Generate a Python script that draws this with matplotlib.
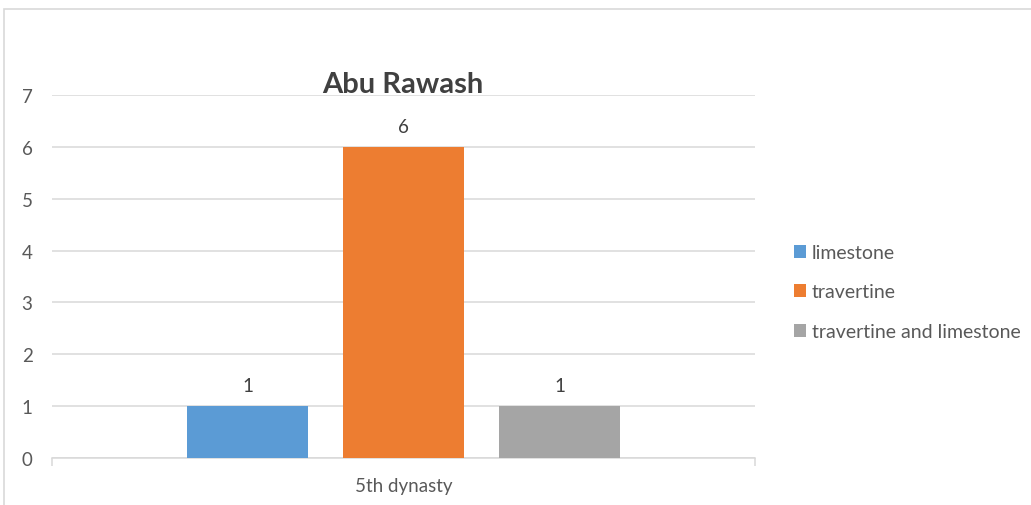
import matplotlib
matplotlib.use("Agg")
import matplotlib.pyplot as plt
from matplotlib.patches import Rectangle

categories = ["5th dynasty"]
series_names = ["limestone", "travertine", "travertine and limestone"]
series_values = [[1], [6], [1]]
colors = ["#5b9bd5", "#ed7d31", "#a5a5a5"]
y_ticks = [0, 1, 2, 3, 4, 5, 6, 7]

plt.rcParams['font.family'] = ['Lato', 'DejaVu Sans']

W, H = 1031, 506
fig = plt.figure(figsize=(W / 100, H / 100), dpi=100)

# chart border
fig.patches.append(Rectangle((4 / W, -0.1), 1.2, 1 - 10 / H + 0.1, transform=fig.transFigure,
                             fill=False, edgecolor="#d9d9d9", linewidth=1.2))

ax = fig.add_axes([52 / W, 1 - 459 / H, (755 - 52) / W, (459 - 96) / H])
bar_w = 121 / 703
step = 156 / 703
n = len(series_names)
for i, (name, vals, c) in enumerate(zip(series_names, series_values, colors)):
    xs = [k + (i - (n - 1) / 2) * step for k in range(len(categories))]
    ax.bar(xs, vals, width=bar_w, color=c, label=name, zorder=3)
    for x, v in zip(xs, vals):
        ax.annotate(str(v), (x, v), xytext=(0, 8.5), textcoords="offset points",
                    ha="center", va="bottom", fontsize=13.5, color="#404040")

ax.set_xlim(-0.5, len(categories) - 0.5)
ax.set_ylim(0, 7)
ax.set_yticks(y_ticks)
ax.yaxis.grid(True, color="#d9d9d9", linewidth=1.1, zorder=0)
ax.set_axisbelow(True)
for s in ["top", "right", "left"]:
    ax.spines[s].set_visible(False)
ax.spines["bottom"].set_color("#d9d9d9")
ax.spines["bottom"].set_linewidth(1.1)
ax.tick_params(axis="y", length=0, labelsize=13.5, labelcolor="#595959", pad=14)
ax.set_xticks(range(len(categories)))
ax.set_xticklabels(categories)
ax.tick_params(axis="x", length=0, labelsize=13.5, labelcolor="#595959", pad=14)
ax.set_xticks([-0.5, 0.5], minor=True)
ax.tick_params(axis="x", which="minor", length=6, color="#d9d9d9", width=1.1)

fig.text(403 / W, 1 - 85 / H, "Abu Rawash", ha="center", va="center",
         fontsize=21, fontweight="bold", color="#404040")

handles, labels = ax.get_legend_handles_labels()
leg = fig.legend(handles, labels, loc="center left", bbox_to_anchor=(780 / W, 1 - 293 / H),
                 frameon=False, fontsize=14, handlelength=0.65, handleheight=0.65,
                 handletextpad=0.3, labelspacing=1.15, borderpad=0.2)
for t in leg.get_texts():
    t.set_color("#595959")

fig.savefig("out.png", dpi=100, facecolor="white")
